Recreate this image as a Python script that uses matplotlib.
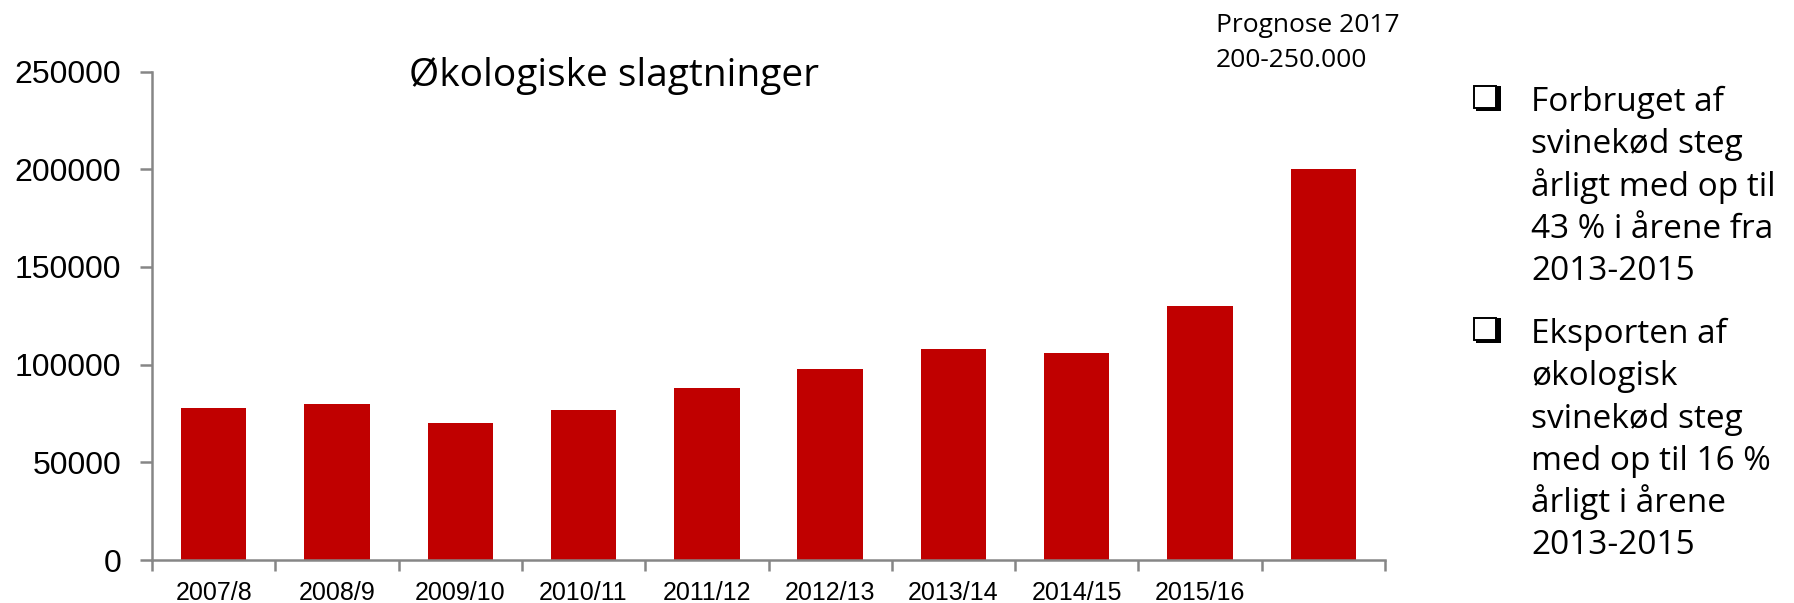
import matplotlib
matplotlib.use("Agg")
import matplotlib.pyplot as plt
from matplotlib.patches import Rectangle
from matplotlib.ticker import FixedLocator, NullFormatter

# data
seasons = ["2007/8", "2008/9", "2009/10", "2010/11", "2011/12",
           "2012/13", "2013/14", "2014/15", "2015/16", ""]
slaughters = [78000, 80000, 70000, 77000, 88000,
              98000, 108000, 106000, 130000, 200000]
y_ticks = [0, 50000, 100000, 150000, 200000, 250000]

title = "Økologiske slagtninger"
forecast_lines = ["Prognose 2017", "200-250.000"]
bullets = [
    ["Forbruget af", "svinekød steg", "årligt med op til",
     "43 % i årene fra", "2013-2015"],
    ["Eksporten af", "økologisk", "svinekød steg",
     "med op til 16 %", "årligt i årene", "2013-2015"],
]

W, H = 1794, 603
BAR_RED = "#C00000"
AXIS_GREY = "#868686"
TEXT_FONT = ["Open Sans", "DejaVu Sans"]
TICK_FONT = ["Liberation Sans", "DejaVu Sans"]


def fx(x):
    return x / W


def fy(y):
    return 1 - y / H


fig = plt.figure(figsize=(W / 100, H / 100), dpi=100)
fig.set_facecolor("white")
ax = fig.add_axes([fx(152), fy(560), 1233 / W, 488.5 / H])

x = list(range(len(seasons)))
ax.bar(x, slaughters, width=0.53, color=BAR_RED, edgecolor="none", zorder=2)

ax.set_xlim(-0.5, len(seasons) - 0.5)
ax.set_ylim(0, 250000)

# tick marks between categories, labels centred under bars
ax.xaxis.set_major_locator(FixedLocator([i - 0.5 for i in range(len(seasons) + 1)]))
ax.xaxis.set_major_formatter(NullFormatter())
ax.xaxis.set_minor_locator(FixedLocator(x))
ax.set_xticklabels(seasons, minor=True, fontsize=18, family=TICK_FONT)
ax.tick_params(axis="x", which="major", direction="out", length=8,
               width=1.8, color=AXIS_GREY)
ax.tick_params(axis="x", which="minor", length=0, pad=15)

ax.set_yticks(y_ticks)
ax.set_yticklabels([str(v) for v in y_ticks], fontsize=23, family=TICK_FONT)
ax.tick_params(axis="y", direction="out", length=9, width=1.8,
               color=AXIS_GREY, pad=13)

for side in ("top", "right"):
    ax.spines[side].set_visible(False)
for side in ("left", "bottom"):
    ax.spines[side].set_color(AXIS_GREY)
    ax.spines[side].set_linewidth(1.8)

fig.text(fx(614), fy(86), title, ha="center", va="baseline",
         fontsize=28, family=TEXT_FONT)

for i, line in enumerate(forecast_lines):
    fig.text(fx(1216), fy(31.7 + 35 * i), line, ha="left", va="baseline",
             fontsize=19, family=TEXT_FONT)

first_baselines = [111, 343]
line_step = 42.3
for para, base in zip(bullets, first_baselines):
    # hollow square bullet with a drop shadow, sitting on the baseline
    fig.patches.append(Rectangle((fx(1476), fy(base)), 25 / W, 25 / H,
                                 transform=fig.transFigure, facecolor="black",
                                 edgecolor="none"))
    fig.patches.append(Rectangle((fx(1474), fy(base - 3)), 22 / W, 22 / H,
                                 transform=fig.transFigure, facecolor="white",
                                 edgecolor="black", linewidth=1.4))
    for j, line in enumerate(para):
        fig.text(fx(1531), fy(base + line_step * j), line, ha="left",
                 va="baseline", fontsize=24, family=TEXT_FONT)

fig.savefig("out.png", dpi=100, facecolor=fig.get_facecolor())
